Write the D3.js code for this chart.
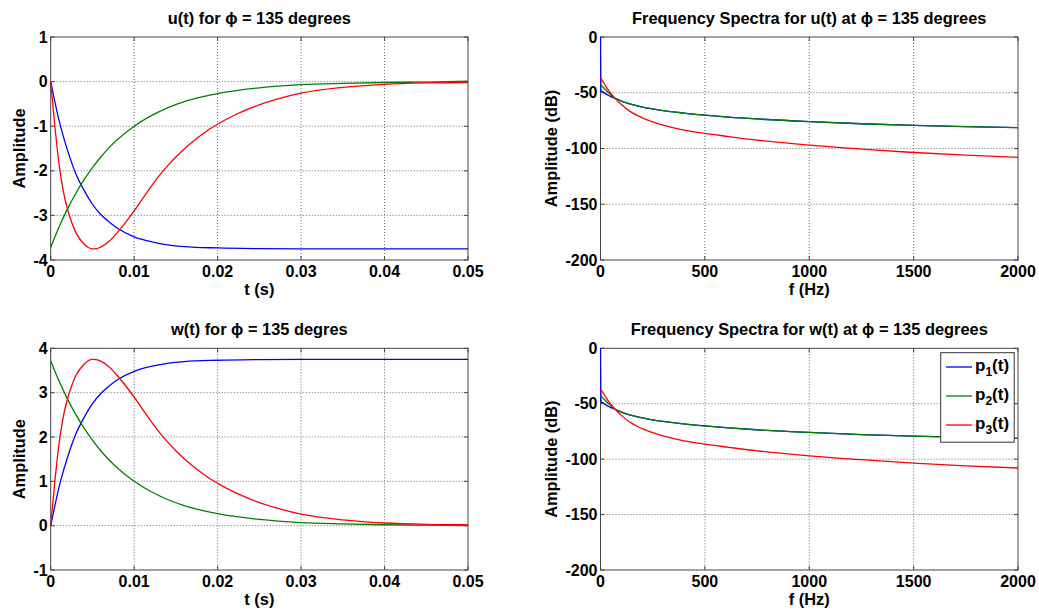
<!DOCTYPE html>
<html>
<head>
<meta charset="utf-8">
<script src="https://cdn.jsdelivr.net/npm/d3@7"></script>
<style>
body{margin:0;background:#fff;}
text{font-family:"Liberation Sans",Arial,Helvetica,sans-serif;font-weight:bold;fill:#000;}
</style>
</head>
<body>
<div id="container"></div>
<script>
let tP1 = [0,0.001,0.002,0.003,0.004,0.005,0.006,0.007,0.008,0.01,0.012,0.014,0.016,0.02,0.025,0.03,0.04,0.05];
let uP1 = [0,-0.87,-1.53,-2.06,-2.44,-2.75,-2.98,-3.15,-3.29,-3.48,-3.59,-3.66,-3.70,-3.73,-3.745,-3.75,-3.75,-3.75];
let wP1 = [0,0.87,1.53,2.06,2.44,2.75,2.98,3.15,3.29,3.48,3.59,3.66,3.70,3.73,3.745,3.75,3.75,3.75];

let tP2 = [0,0.001,0.002,0.003,0.004,0.005,0.006,0.007,0.008,0.01,0.012,0.014,0.016,0.018,0.02,0.025,0.03,0.035,0.04,0.045,0.05];
let uP2 = [-3.72,-3.26,-2.86,-2.51,-2.20,-1.93,-1.69,-1.48,-1.30,-1.00,-0.77,-0.59,-0.45,-0.35,-0.27,-0.14,-0.07,-0.04,-0.02,-0.01,0.01];
let wP2 = [3.72,3.26,2.86,2.51,2.20,1.93,1.69,1.48,1.30,1.00,0.77,0.59,0.45,0.35,0.27,0.14,0.07,0.04,0.02,0.01,0];

let tP3 = [0,0.0005,0.001,0.0015,0.002,0.0025,0.003,0.004,0.0045,0.005,0.0055,0.006,0.007,0.008,0.009,0.01,0.011,0.012,0.013,0.014,0.015,0.016,0.017,0.018,0.019,0.02,0.022,0.025,0.028,0.03,0.035,0.04,0.045,0.05];
let uP3 = [0,-1.0,-1.85,-2.45,-2.85,-3.15,-3.38,-3.64,-3.72,-3.75,-3.745,-3.71,-3.58,-3.38,-3.15,-2.90,-2.63,-2.36,-2.11,-1.89,-1.69,-1.51,-1.35,-1.205,-1.07,-0.955,-0.755,-0.52,-0.35,-0.26,-0.13,-0.06,-0.03,-0.02];
let wP3 = [0,1.0,1.85,2.45,2.85,3.15,3.38,3.64,3.72,3.75,3.745,3.71,3.58,3.38,3.15,2.90,2.63,2.36,2.11,1.89,1.69,1.51,1.35,1.205,1.07,0.955,0.755,0.52,0.35,0.26,0.13,0.06,0.03,0.02];

// spectra (Hz, dB) - same for u and w
let fP1 = [0,2,10,25,45,70,100,140,200,250,300,400,500,614,750,1000,1250,1500,1750,2000];
let sP1 = [0,-48.2,-49,-51,-53,-55,-57.5,-60,-62.8,-64.5,-66,-68.2,-70,-71.8,-73.5,-75.9,-77.8,-79.3,-80.4,-81.3];
let fP2 = [0,10,25,45,70,100,140,200,250,300,400,500,614,750,1000,1250,1500,1750,2000];
let sP2 = [-42.5,-44.5,-47.5,-51,-55,-57.5,-60,-62.8,-64.5,-66,-68.2,-70,-71.8,-73.5,-75.9,-77.8,-79.3,-80.4,-81.3];
let fP3 = [0,10,25,45,70,100,140,200,300,400,500,614,750,1000,1250,1500,1750,2000];
let sP3 = [-36.8,-39.5,-44,-49.5,-55,-60.5,-66.5,-72.5,-79,-83.5,-86.5,-89.3,-92.5,-97,-100.5,-103.6,-106,-108];

let tTicks = [0,0.01,0.02,0.03,0.04,0.05];
let fTicks = [0,500,1000,1500,2000];
let uTicks = [1,0,-1,-2,-3,-4];
let wTicks = [4,3,2,1,0,-1];
let dbTicks = [0,-50,-100,-150,-200];

let seriesNames = ["1","2","3"];
let seriesColors = ["#0000ff","#008000","#ff0000"];

let W = 1039, H = 611;
let svg = d3.select("div#container").append("svg")
	.attr("width", W).attr("height", H);

function zip(xs, ys){
	return xs.map((x,i) => [x, ys[i]]);
}

function tickText(d){
	if(d===0) return "0";
	return String(d);
}

function drawPanel(p, id){
	let xScale = d3.scaleLinear().domain(p.xDomain).range([p.left, p.right]);
	let yScale = d3.scaleLinear().domain(p.yDomain).range([p.bottom, p.top]);
	let g = svg.append("g");

	svg.append("clipPath").attr("id","clip"+id)
		.append("rect")
		.attr("x",p.left-1).attr("y",p.top-1)
		.attr("width",p.right-p.left+2).attr("height",p.bottom-p.top+2);

	// grid
	g.selectAll(".gx").data(p.xTicks.slice(1,-1)).enter().append("line")
		.attr("x1",d=>xScale(d)).attr("x2",d=>xScale(d))
		.attr("y1",p.top).attr("y2",p.bottom)
		.attr("stroke","#666").attr("stroke-width",1).attr("stroke-dasharray","1,2");
	g.selectAll(".gy").data(p.yTicks.slice(1,-1)).enter().append("line")
		.attr("y1",d=>yScale(d)).attr("y2",d=>yScale(d))
		.attr("x1",p.left).attr("x2",p.right)
		.attr("stroke","#666").attr("stroke-width",1).attr("stroke-dasharray","1,2");

	// box + inward ticks
	g.append("rect")
		.attr("x",p.left).attr("y",p.top)
		.attr("width",p.right-p.left).attr("height",p.bottom-p.top)
		.attr("fill","none").attr("stroke","#444").attr("stroke-width",1);
	let tl = 4;
	p.xTicks.forEach(function(d){
		let x = xScale(d);
		g.append("line").attr("x1",x).attr("x2",x).attr("y1",p.bottom).attr("y2",p.bottom-tl).attr("stroke","#444");
		g.append("line").attr("x1",x).attr("x2",x).attr("y1",p.top).attr("y2",p.top+tl).attr("stroke","#444");
	});
	p.yTicks.forEach(function(d){
		let y = yScale(d);
		g.append("line").attr("x1",p.left).attr("x2",p.left+tl).attr("y1",y).attr("y2",y).attr("stroke","#444");
		g.append("line").attr("x1",p.right).attr("x2",p.right-tl).attr("y1",y).attr("y2",y).attr("stroke","#444");
	});

	// data (on top of the box, like the reference)
	let line = d3.line().x(d=>xScale(d[0])).y(d=>yScale(d[1])).curve(d3.curveMonotoneX);
	p.series.forEach(function(s,i){
		g.append("path")
			.attr("d",line(s))
			.attr("fill","none")
			.attr("stroke",seriesColors[i])
			.attr("stroke-width",1.3)
			.attr("clip-path","url(#clip"+id+")");
	});

	// tick labels
	g.selectAll(".xl").data(p.xTicks).enter().append("text")
		.attr("x",d=>xScale(d)).attr("y",p.bottom+16.5)
		.attr("text-anchor","middle").style("font-size","16px")
		.text(tickText);
	g.selectAll(".yl").data(p.yTicks).enter().append("text")
		.attr("x",p.left-3).attr("y",d=>yScale(d)).attr("dy","0.35em")
		.attr("text-anchor","end").style("font-size","16px")
		.text(tickText);

	// titles
	let cx = (p.left+p.right)/2;
	g.append("text").attr("x",cx).attr("y",p.top-13)
		.attr("text-anchor","middle").style("font-size","16.4px")
		.text(p.title);
	g.append("text").attr("x",cx).attr("y",p.bottom+35)
		.attr("text-anchor","middle").style("font-size","16.4px")
		.text(p.xLabel);
	g.append("text")
		.attr("transform","translate("+p.yLabelX+","+((p.top+p.bottom)/2)+") rotate(-90)")
		.attr("dy","0.35em")
		.attr("text-anchor","middle").style("font-size","16.4px")
		.text(p.yLabel);
	return {g:g, xScale:xScale, yScale:yScale};
}

let leftX = [50.7, 468];
let rightX = [600.5, 1018];
let topY = [37, 260];
let botY = [348.3, 570];

let specSeries = [zip(fP1,sP1), zip(fP2,sP2), zip(fP3,sP3)];

drawPanel({left:leftX[0],right:leftX[1],top:topY[0],bottom:topY[1],
	xDomain:[0,0.05], yDomain:[-4,1], xTicks:tTicks, yTicks:uTicks.slice().reverse(),
	title:"u(t) for \u03d5 = 135 degrees", xLabel:"t (s)", yLabel:"Amplitude", yLabelX:19.5,
	series:[zip(tP1,uP1), zip(tP2,uP2), zip(tP3,uP3)]}, 1);

drawPanel({left:rightX[0],right:rightX[1],top:topY[0],bottom:topY[1],
	xDomain:[0,2000], yDomain:[-200,0], xTicks:fTicks, yTicks:dbTicks.slice().reverse(),
	title:"Frequency Spectra for u(t) at \u03d5 = 135 degrees", xLabel:"f (Hz)", yLabel:"Amplitude (dB)", yLabelX:551.5,
	series:specSeries}, 2);

drawPanel({left:leftX[0],right:leftX[1],top:botY[0],bottom:botY[1],
	xDomain:[0,0.05], yDomain:[-1,4], xTicks:tTicks, yTicks:wTicks.slice().reverse(),
	title:"w(t) for \u03d5 = 135 degres", xLabel:"t (s)", yLabel:"Amplitude", yLabelX:19.5,
	series:[zip(tP1,wP1), zip(tP2,wP2), zip(tP3,wP3)]}, 3);

drawPanel({left:rightX[0],right:rightX[1],top:botY[0],bottom:botY[1],
	xDomain:[0,2000], yDomain:[-200,0], xTicks:fTicks, yTicks:dbTicks.slice().reverse(),
	title:"Frequency Spectra for w(t) at \u03d5 = 135 degrees", xLabel:"f (Hz)", yLabel:"Amplitude (dB)", yLabelX:551.5,
	series:specSeries}, 4);

// legend
let lg = svg.append("g");
lg.append("rect").attr("x",940.7).attr("y",352.7).attr("width",73.5).attr("height",89.5)
	.attr("fill","#fff").attr("stroke","#333").attr("stroke-width",1);
seriesNames.forEach(function(n,i){
	let y = 367 + i*29;
	lg.append("line").attr("x1",946).attr("x2",972).attr("y1",y).attr("y2",y)
		.attr("stroke",seriesColors[i]).attr("stroke-width",1.3);
	let t = lg.append("text").attr("x",975).attr("y",y+3.5).style("font-size","17px");
	t.append("tspan").text("p");
	t.append("tspan").attr("dy","5").style("font-size","12px").text(n);
	t.append("tspan").attr("dy","-5").text("(t)");
});
</script>
</body>
</html>
